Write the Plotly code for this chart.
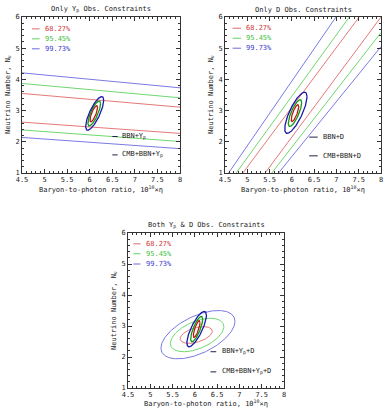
import numpy as np
import plotly.graph_objects as go

# ---------------- data ----------------
levels = ["68.27%", "95.45%", "99.73%"]

# Only Yp panel: band edges (N_nu at eta=4.5 and eta=8)
yp_x = [4.5, 8.0]
yp_red_hi = [3.55, 3.11]
yp_red_lo = [2.63, 2.27]
yp_green_hi = [3.87, 3.41]
yp_green_lo = [2.38, 2.01]
yp_blue_hi = [4.21, 3.73]
yp_blue_lo = [2.14, 1.78]

# Only D panel: band edges as (eta, N) end points
d_red_left_x = [4.90, 7.51]
d_red_left_y = [1.0, 6.0]
d_red_right_x = [5.40, 8.0]
d_red_right_y = [1.0, 6.0]
d_green_left_x = [4.75, 7.29]
d_green_left_y = [1.0, 6.0]
d_green_right_x = [5.55, 8.0]
d_green_right_y = [1.0, 5.5]
d_blue_left_x = [4.58, 6.99]
d_blue_left_y = [1.0, 6.0]
d_blue_right_x = [5.70, 8.0]
d_blue_right_y = [1.0, 5.05]

# Ellipses: centre eta, centre N, half-extent eta, half-extent N, correlation
# order: red (68.27), green (95.45), blue (99.73)
cmb_yp_cx = [6.09, 6.10, 6.11]
cmb_yp_cy = [2.90, 2.91, 2.91]
cmb_yp_sx = [0.085, 0.14, 0.20]
cmb_yp_sy = [0.26, 0.40, 0.54]
cmb_yp_rho = [0.78, 0.78, 0.78]

cmb_d_cx = [6.07, 6.07, 6.09]
cmb_d_cy = [2.92, 2.92, 2.93]
cmb_d_sx = [0.085, 0.15, 0.25]
cmb_d_sy = [0.27, 0.43, 0.66]
cmb_d_rho = [0.78, 0.78, 0.78]

both_cx = [6.03, 6.05, 6.07]
both_cy = [2.71, 2.71, 2.72]
both_sx = [0.36, 0.60, 0.83]
both_sy = [0.27, 0.54, 0.78]
both_rho = [0.45, 0.5, 0.55]

cmb_both_cx = [6.04, 6.04, 6.04]
cmb_both_cy = [2.90, 2.90, 2.90]
cmb_both_sx = [0.075, 0.135, 0.22]
cmb_both_sy = [0.27, 0.41, 0.57]
cmb_both_rho = [0.78, 0.78, 0.78]

x_ticks = [4.5, 5, 5.5, 6, 6.5, 7, 7.5, 8]
y_ticks = [1, 2, 3, 4, 5, 6]

# ---------------- styling ----------------
light = ["#e06a6a", "#5fd35f", "#6a6ae0"]
dark = ["#c01818", "#109a10", "#1a1aa8"]
text_col = ["#d03a3a", "#3cbf3c", "#3a3acc"]
FONT = "DejaVu Sans Mono"

fig = go.Figure()


def ellipse(cx, cy, sx, sy, rho):
    t = np.linspace(0, 2 * np.pi, 240)
    x = cx + sx * np.cos(t)
    y = cy + sy * (rho * np.cos(t) + np.sqrt(1 - rho ** 2) * np.sin(t))
    return x, y


def line(x, y, color, width, ax):
    fig.add_trace(go.Scatter(x=x, y=y, mode="lines", line=dict(color=color, width=width),
                             xaxis=ax[0], yaxis=ax[1], showlegend=False, hoverinfo="skip"))


A1, A2, A3 = ("x", "y"), ("x2", "y2"), ("x3", "y3")

# Panel 1 bands
for ys, c in [(yp_red_hi, 0), (yp_red_lo, 0), (yp_green_hi, 1), (yp_green_lo, 1),
              (yp_blue_hi, 2), (yp_blue_lo, 2)]:
    line(yp_x, ys, light[c], 0.9, A1)
for i in range(3):
    ex, ey = ellipse(cmb_yp_cx[i], cmb_yp_cy[i], cmb_yp_sx[i], cmb_yp_sy[i], cmb_yp_rho[i])
    line(ex, ey, dark[i], 1.3, A1)

# Panel 2 bands
for xs, ys, c in [(d_red_left_x, d_red_left_y, 0), (d_red_right_x, d_red_right_y, 0),
                  (d_green_left_x, d_green_left_y, 1), (d_green_right_x, d_green_right_y, 1),
                  (d_blue_left_x, d_blue_left_y, 2), (d_blue_right_x, d_blue_right_y, 2)]:
    line(xs, ys, light[c], 0.9, A2)
for i in range(3):
    ex, ey = ellipse(cmb_d_cx[i], cmb_d_cy[i], cmb_d_sx[i], cmb_d_sy[i], cmb_d_rho[i])
    line(ex, ey, dark[i], 1.3, A2)

# Panel 3
for i in range(3):
    ex, ey = ellipse(both_cx[i], both_cy[i], both_sx[i], both_sy[i], both_rho[i])
    line(ex, ey, light[i], 0.9, A3)
for i in range(3):
    ex, ey = ellipse(cmb_both_cx[i], cmb_both_cy[i], cmb_both_sx[i], cmb_both_sy[i], cmb_both_rho[i])
    line(ex, ey, dark[i], 1.3, A3)

# ---------------- legends (inside panels) ----------------
annotations = []
shapes = []


def legend(ax, lx0, lx1, tx, ys, bbn_label, cmb_label, bx0, bx1, btx, by):
    xr, yr = ax
    for i in range(3):
        shapes.append(dict(type="line", xref=xr, yref=yr, x0=lx0, x1=lx1, y0=ys[i], y1=ys[i],
                           line=dict(color=light[i], width=1)))
        annotations.append(dict(xref=xr, yref=yr, x=tx, y=ys[i], text=levels[i], showarrow=False,
                                xanchor="left", yanchor="middle",
                                font=dict(family=FONT, size=7, color=text_col[i])))
    for lab, yy in [(bbn_label, by[0]), (cmb_label, by[1])]:
        shapes.append(dict(type="line", xref=xr, yref=yr, x0=bx0, x1=bx1, y0=yy, y1=yy,
                           line=dict(color="#222244", width=1)))
        annotations.append(dict(xref=xr, yref=yr, x=btx, y=yy, text=lab, showarrow=False,
                                xanchor="left", yanchor="middle",
                                font=dict(family=FONT, size=7, color="#222222")))


legend(A1, 4.72, 4.89, 4.96, [5.62, 5.30, 4.98], "BBN+Y<sub>p</sub>", "CMB+BBN+Y<sub>p</sub>",
       6.50, 6.62, 6.68, [2.17, 1.58])
legend(A2, 4.67, 4.86, 4.93, [5.64, 5.32, 5.00], "BBN+D", "CMB+BBN+D",
       6.39, 6.58, 6.66, [2.15, 1.55])
legend(A3, 4.62, 4.78, 4.85, [5.65, 5.33, 5.00], "BBN+Y<sub>p</sub>+D", "CMB+BBN+Y<sub>p</sub>+D",
       6.35, 6.48, 6.57, [2.17, 1.52])

# titles and axis titles (paper coordinates)
W, H = 386.0, 411.0
xlab = "Baryon-to-photon ratio, 10<sup>10</sup>×η"
ylab = "Neutrino Number, N<sub>ν</sub>"
texts = [("Only Y<sub>p</sub> Obs. Constraints", 101, 10, 0),
         ("Only D Obs. Constraints", 303, 10, 0),
         ("Both Y<sub>p</sub> &amp; D Obs. Constraints", 206, 225, 0),
         (xlab, 101, 189, 0), (xlab, 303, 189, 0), (xlab, 206, 403, 0),
         (ylab, 8, 95, -90), (ylab, 211, 95, -90), (ylab, 114, 311, -90)]
for t, x, y, ang in texts:
    annotations.append(dict(xref="paper", yref="paper", x=x / W, y=1 - y / H, text=t,
                            showarrow=False, xanchor="center", yanchor="middle", textangle=ang,
                            font=dict(family=FONT, size=7, color="#222222")))


def xaxis(domain, anchor):
    return dict(domain=domain, anchor=anchor, range=[4.5, 8], tickvals=x_ticks,
                ticktext=[f"{v:g}" for v in x_ticks], automargin=False,
                ticks="inside", ticklen=4, tickcolor="#333", mirror="allticks",
                showline=True, linecolor="#333", linewidth=1, showgrid=False, zeroline=False,
                minor=dict(ticks="inside", dtick=0.1, ticklen=2, tickcolor="#333", showgrid=False),
                tickfont=dict(family=FONT, size=7, color="#222"))


def yaxis(domain, anchor):
    return dict(domain=domain, anchor=anchor, range=[1, 6], tickvals=y_ticks, automargin=False,
                ticks="inside", ticklen=4, tickcolor="#333", mirror="allticks",
                showline=True, linecolor="#333", linewidth=1, showgrid=False, zeroline=False,
                minor=dict(ticks="inside", dtick=0.2, ticklen=2, tickcolor="#333", showgrid=False),
                tickfont=dict(family=FONT, size=7, color="#222"))


top_dom = [1 - 173 / H, 1 - 17 / H]
bot_dom = [1 - 388 / H, 1 - 233 / H]

fig.update_layout(
    width=386, height=411, margin=dict(l=0, r=0, t=0, b=0, autoexpand=False),
    paper_bgcolor="white", plot_bgcolor="white", showlegend=False,
    xaxis=xaxis([22 / W, 180 / W], "y"),
    yaxis=yaxis(top_dom, "x"),
    xaxis2=xaxis([225 / W, 381 / W], "y2"),
    yaxis2=yaxis(top_dom, "x2"),
    xaxis3=xaxis([128 / W, 284 / W], "y3"),
    yaxis3=yaxis(bot_dom, "x3"),
    annotations=annotations, shapes=shapes,
)

fig.write_html("out.html", config={"displayModeBar": False, "staticPlot": True},
               post_script="document.body.style.margin='0';document.body.style.overflow='hidden';")
